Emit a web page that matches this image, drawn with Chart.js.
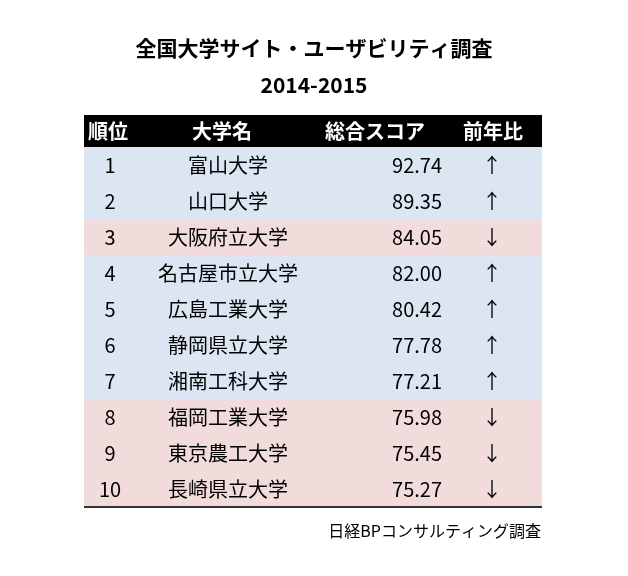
<!DOCTYPE html>
<html><head><meta charset="utf-8">
<script src="https://cdn.jsdelivr.net/npm/chart.js@4"></script>
<style>html,body{margin:0;padding:0;background:#fff}#c{display:block}</style>
</head><body>
<div style="width:628px;height:576px"><canvas id="c"></canvas></div>
<script>
const ranks = ["1","2","3","4","5","6","7","8","9","10"];
const names = ["富山大学","山口大学","大阪府立大学","名古屋市立大学","広島工業大学","静岡県立大学","湘南工科大学","福岡工業大学","東京農工大学","長崎県立大学"];
const scores = [92.74,89.35,84.05,82.00,80.42,77.78,77.21,75.98,75.45,75.27];
const trend = ["↑","↑","↓","↑","↑","↑","↑","↓","↓","↓"];
const headers = ["順位","大学名","総合スコア","前年比"];
const titleLines = ["全国大学サイト・ユーザビリティ調査","2014-2015"];
const footer = "日経BPコンサルティング調査";
const FONT = '"Noto Sans CJK JP","Noto Sans",sans-serif';
const tablePlugin = {
  id:'table',
  beforeDatasetsDraw(chart){
    const {ctx, chartArea:a, scales:{y}} = chart;
    const band = (y.getPixelForValue(1)-y.getPixelForValue(0));
    ranks.forEach((r,i)=>{
      const cy = y.getPixelForValue(i);
      ctx.fillStyle = trend[i]==="↑" ? "#dce6f2" : "#f2dcdb";
      ctx.fillRect(a.left, cy-band/2, a.right-a.left, band);
    });
  },
  afterDatasetsDraw(chart){
    const {ctx, chartArea:a, scales:{y}} = chart;
    ctx.save();
    ctx.textBaseline='middle';
    ctx.fillStyle='#000';
    ctx.font='bold 21px '+FONT;
    ctx.textAlign='center';
    ctx.fillText(titleLines[0], 314, 48);
    ctx.fillText(titleLines[1], 314, 85);
    ctx.fillStyle='#000';
    ctx.fillRect(a.left, a.top-32, a.right-a.left, 32);
    ctx.fillStyle='#fff';
    ctx.font='bold 20px '+FONT;
    const hx=[108,222,375,493];
    headers.forEach((h,i)=>ctx.fillText(h,hx[i],a.top-16));
    ctx.fillStyle='#000';
    ctx.font='20px '+FONT;
    ranks.forEach((r,i)=>{
      const cy=y.getPixelForValue(i);
      ctx.textAlign='center';
      ctx.fillText(r,110,cy);
      ctx.fillText(names[i],228,cy);
      ctx.fillText(trend[i],492,cy);
      ctx.textAlign='right';
      ctx.fillText(scores[i].toFixed(2),442,cy);
    });
    ctx.strokeStyle='#333';ctx.lineWidth=2;
    ctx.beginPath();ctx.moveTo(a.left,a.bottom);ctx.lineTo(a.right,a.bottom);ctx.stroke();
    ctx.font='16px '+FONT;ctx.textAlign='right';
    ctx.fillText(footer,541,531);
    ctx.restore();
  }
};
new Chart(document.getElementById('c'),{
  type:'bar',
  data:{labels:ranks,datasets:[{data:scores,backgroundColor:'rgba(0,0,0,0)'}]},
  options:{
    indexAxis:'y',responsive:true,maintainAspectRatio:false,animation:false,
    layout:{padding:{left:84,right:86,top:147,bottom:69}},
    plugins:{legend:{display:false},tooltip:{enabled:false}},
    scales:{x:{display:false,min:0,max:100},y:{display:false}}
  },
  plugins:[tablePlugin]
});
</script></body></html>
